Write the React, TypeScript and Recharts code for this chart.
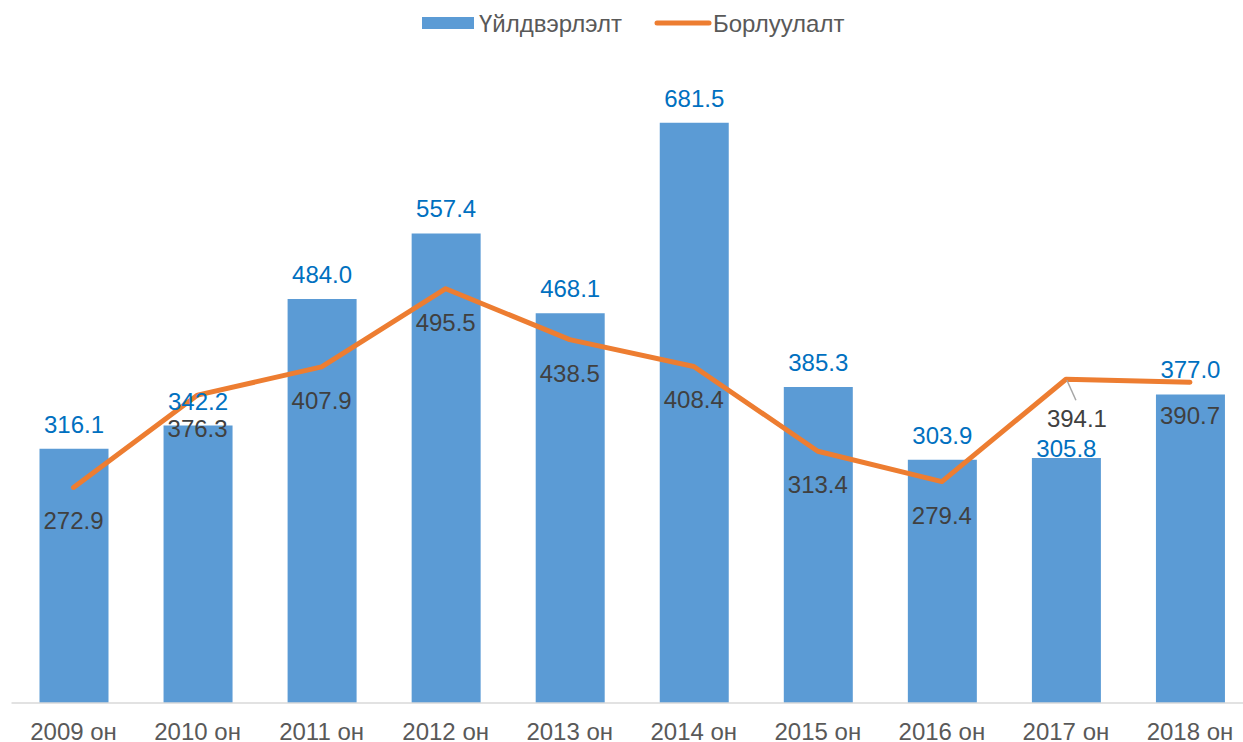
import { Bar, ComposedChart, LabelList, Line, XAxis, YAxis } from 'recharts';

const FONT = '"Liberation Sans", Arial, sans-serif';

const YEARS = ['2009 он', '2010 он', '2011 он', '2012 он', '2013 он', '2014 он', '2015 он', '2016 он', '2017 он', '2018 он'];
const PRODUCTION = [316.1, 342.2, 484.0, 557.4, 468.1, 681.5, 385.3, 303.9, 305.8, 377.0];
const SALES = [272.9, 376.3, 407.9, 495.5, 438.5, 408.4, 313.4, 279.4, 394.1, 390.7];

const data = YEARS.map((year, i) => ({ year, production: PRODUCTION[i], sales: SALES[i] }));

const BarLabel = (props: any) => {
  const { x, y, width, value, index } = props;
  // 2017 label sits right on the bar top in the original (pushed down by the line label)
  const dy = index === 8 ? -1 : -16;
  return (
    <text x={x + width / 2} y={y + dy} textAnchor="middle" fill="#0070C0" fontSize={24} fontFamily={FONT}>
      {value.toFixed(1)}
    </text>
  );
};

const LineLabel = (props: any) => {
  const { x, y, value, index } = props;
  // 2017 label was dragged off the point in the original, with a leader line
  if (index === 8) {
    return (
      <g>
        <line x1={x + 1} y1={y + 1} x2={x + 10} y2={y + 21} stroke="#A6A6A6" strokeWidth={1.5} />
        <text x={x + 11} y={y + 48} textAnchor="middle" fill="#404040" fontSize={24} fontFamily={FONT}>
          {value.toFixed(1)}
        </text>
      </g>
    );
  }
  return (
    <text x={x} y={y + 42} textAnchor="middle" fill="#404040" fontSize={24} fontFamily={FONT}>
      {value.toFixed(1)}
    </text>
  );
};

const YearTick = (props: any) => {
  const { x, y, payload } = props;
  return (
    <text x={x} y={y + 37} textAnchor="middle" fill="#595959" fontSize={24} fontFamily={FONT}>
      {payload.value}
    </text>
  );
};

export default function App() {
  return (
    <div style={{ position: 'fixed', left: 0, top: 0, width: 1243, height: 742, overflow: 'hidden', background: '#fff' }}>
      <ComposedChart width={1252} height={742} data={data} margin={{ top: 61.5, right: 0, bottom: 9, left: 11.5 }}>
        <XAxis
          dataKey="year"
          height={30}
          tickLine={false}
          tickSize={0}
          tickMargin={0}
          tick={<YearTick />}
          axisLine={{ stroke: '#D9D9D9', strokeWidth: 1.5 }}
          interval={0}
        />
        <YAxis hide domain={[31.4, 750]} allowDataOverflow />
        <Bar dataKey="production" fill="#5B9BD5" barSize={69} isAnimationActive={false}>
          <LabelList dataKey="production" content={<BarLabel />} />
        </Bar>
        <Line
          dataKey="sales"
          type="linear"
          stroke="#ED7D31"
          strokeWidth={5}
          strokeLinecap="round"
          strokeLinejoin="round"
          dot={false}
          activeDot={false}
          isAnimationActive={false}
        >
          <LabelList dataKey="sales" content={<LineLabel />} />
        </Line>
      </ComposedChart>
      <svg width={1243} height={50} style={{ position: 'absolute', left: 0, top: 0 }}>
        <rect x={422} y={17} width={52} height={12} fill="#5B9BD5" />
        <text x={479} y={32} fill="#595959" fontSize={24} fontFamily={FONT}>
          Үйлдвэрлэлт
        </text>
        <line x1={657} y1={23} x2={709} y2={23} stroke="#ED7D31" strokeWidth={5} strokeLinecap="round" />
        <text x={713} y={32} fill="#595959" fontSize={24} fontFamily={FONT}>
          Борлуулалт
        </text>
      </svg>
    </div>
  );
}
